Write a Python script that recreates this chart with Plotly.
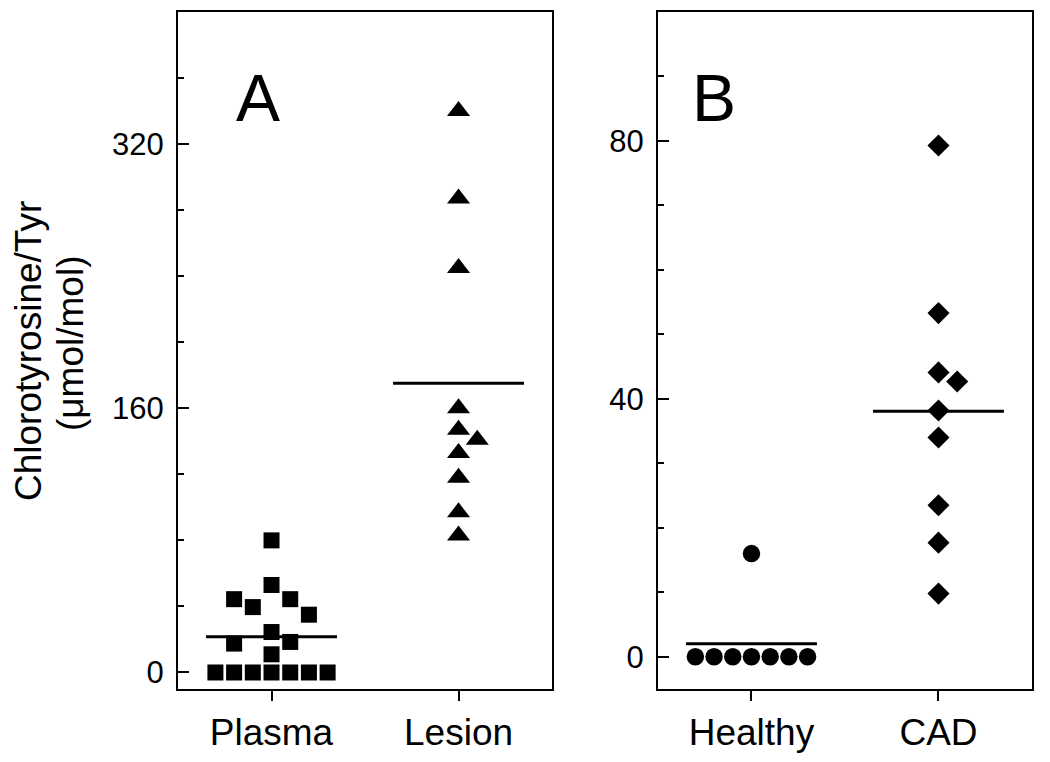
import plotly.graph_objects as go

# ---- data ----
plasma_vals = [0, 0, 0, 0, 0, 0, 0, 11, 24.5, 53, 80, 17.5, 44.4, 39.6, 44.4, 18.5, 35]
plasma_slot = [-3, -2, -1, 0, 1, 2, 3, 0, 0, 0, 0, -2, -2, -1, 1, 1, 2]
lesion_vals = [340, 287, 245, 160, 147, 141, 133, 118, 97, 83]
lesion_slot = [0, 0, 0, 0, 0, 1, 0, 0, 0, 0]
healthy_vals = [0, 0, 0, 0, 0, 0, 0, 16]
healthy_slot = [-3, -2, -1, 0, 1, 2, 3, 0]
cad_vals = [79.3, 53.3, 44.1, 42.7, 38.2, 34.0, 23.5, 17.7, 9.8]
cad_slot = [0, 0, 0, 1, 0, 0, 0, 0, 0]

cats_a = ["Plasma", "Lesion"]
cats_b = ["Healthy", "CAD"]
yticks_a = [0, 160, 320]
yticks_b = [0, 40, 80]

FONT = "Arial, Liberation Sans, sans-serif"
SLOT = 0.1
HALF = 0.35

# page has an 8px body margin; figure sized to fit the 1050x762 window
W, H = 1042, 754
ML, MR, MT, MB = 170, 18, 2, 73
PW = W - ML - MR
PH = H - MT - MB


def px_to_paper_x(px):
    return (px - 8 - ML) / PW


def px_to_paper_y(py):
    return (H - MB - (py - 8)) / PH


def mean(v):
    return sum(v) / len(v)


fig = go.Figure()


def add_group(vals, slots, center, symbol, size, xa, ya):
    fig.add_trace(go.Scatter(
        x=[center + s * SLOT for s in slots], y=vals, mode="markers",
        marker=dict(symbol=symbol, size=size, color="black", line=dict(width=0)),
        xaxis=xa, yaxis=ya, showlegend=False, hoverinfo="y"))
    m = mean(vals)
    fig.add_trace(go.Scatter(
        x=[center - HALF, center + HALF], y=[m, m], mode="lines",
        line=dict(color="black", width=3), xaxis=xa, yaxis=ya,
        showlegend=False, hoverinfo="skip"))


add_group(plasma_vals, plasma_slot, 0, "square", 16, "x", "y")
add_group(lesion_vals, lesion_slot, 1, "triangle-up", 20, "x", "y")
add_group(healthy_vals, healthy_slot, 0, "circle", 17.5, "x2", "y2")
add_group(cad_vals, cad_slot, 1, "diamond", 17, "x2", "y2")

axis_common = dict(showline=True, linecolor="black", linewidth=2, mirror=True,
                   showgrid=False, zeroline=False)

xcommon = dict(axis_common, range=[-0.5, 1.5], tickvals=[0, 1], ticks="outside",
               ticklen=10, tickwidth=2, tickcolor="black",
               tickfont=dict(family=FONT, size=37, color="black"))

ycommon = dict(axis_common, ticks="inside", ticklen=11, tickwidth=2, tickcolor="black",
               tickfont=dict(family=FONT, size=31, color="black"), ticklabelstandoff=6)

fig.update_layout(
    width=W, height=H,
    margin=dict(l=ML, r=MR, t=MT, b=MB),
    plot_bgcolor="white", paper_bgcolor="white",
    xaxis=dict(xcommon, domain=[0, 0.438], ticktext=cats_a, anchor="y"),
    xaxis2=dict(xcommon, domain=[0.562, 1.0], ticktext=cats_b, anchor="y2"),
    yaxis=dict(ycommon, range=[-10, 400], tickvals=yticks_a, anchor="x",
               minor=dict(dtick=40, tick0=0, ticks="inside", ticklen=6,
                          tickwidth=2, tickcolor="black")),
    yaxis2=dict(ycommon, range=[-5, 100], tickvals=yticks_b, anchor="x2",
                minor=dict(dtick=10, tick0=0, ticks="inside", ticklen=6,
                           tickwidth=2, tickcolor="black")),
    annotations=[
        dict(text="Chlorotyrosine/Tyr", xref="paper", yref="paper",
             x=px_to_paper_x(29), y=px_to_paper_y(350), xanchor="center", yanchor="middle",
             textangle=-90, showarrow=False,
             font=dict(family=FONT, size=37, color="black")),
        dict(text="(\u03bcmol/mol)", xref="paper", yref="paper",
             x=px_to_paper_x(70), y=px_to_paper_y(343), xanchor="center", yanchor="middle",
             textangle=-90, showarrow=False,
             font=dict(family=FONT, size=37, color="black")),
        dict(text="A", xref="paper", yref="paper",
             x=px_to_paper_x(258), y=px_to_paper_y(96), xanchor="center",
             yanchor="middle", showarrow=False,
             font=dict(family=FONT, size=66, color="black")),
        dict(text="B", xref="paper", yref="paper",
             x=px_to_paper_x(714), y=px_to_paper_y(96), xanchor="center",
             yanchor="middle", showarrow=False,
             font=dict(family=FONT, size=66, color="black")),
    ],
)

fig.write_html("out.html")
